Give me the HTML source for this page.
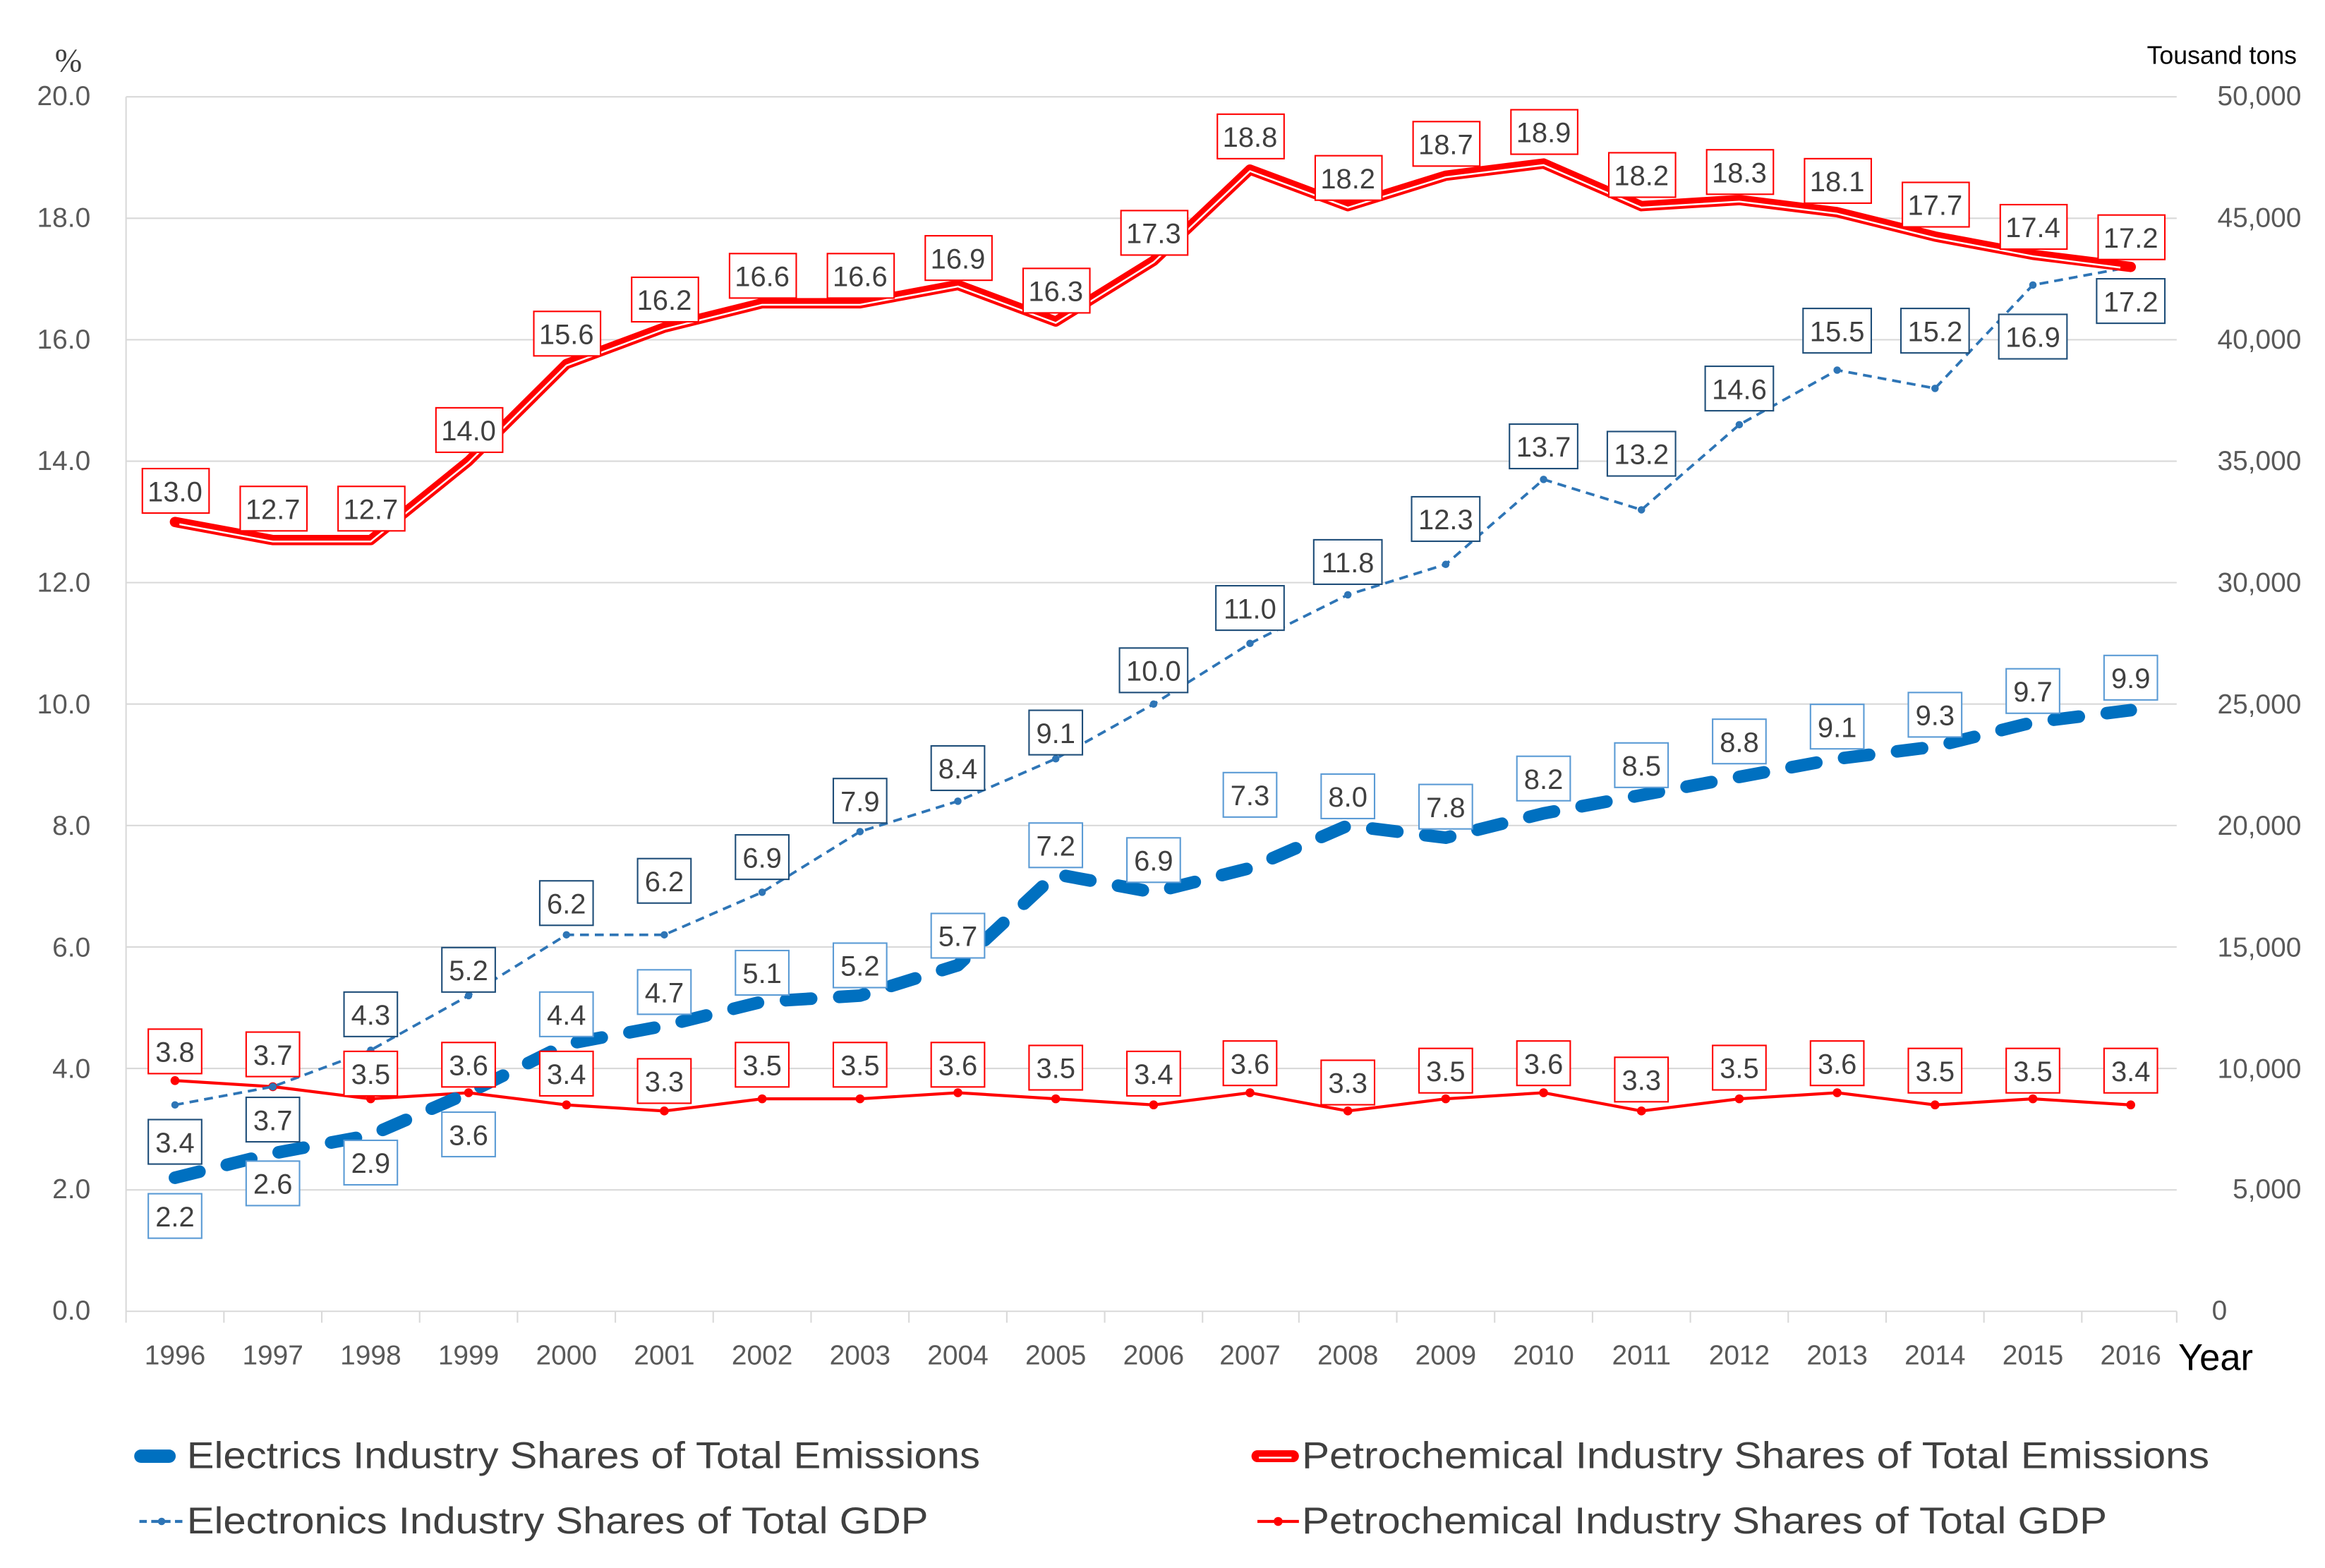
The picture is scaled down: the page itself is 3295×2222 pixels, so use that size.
<!DOCTYPE html>
<html><head><meta charset="utf-8"><style>
html,body{margin:0;padding:0;background:#fff}
svg{display:block}
text{font-family:"Liberation Sans",sans-serif}
.t{font-size:18.5px;fill:#595959}
.d{font-size:19px;fill:#404040;text-anchor:middle}
.rb{fill:#fff;stroke:#ff0000;stroke-width:1}
.db{fill:#fff;stroke:#1f4e79;stroke-width:1}
.lb{fill:#fff;stroke:#5b9bd5;stroke-width:1}
.g{stroke:#d9d9d9;stroke-width:1}
.lg{font-size:25px;fill:#404040}
</style></head><body>
<svg width="3295" height="2222" viewBox="0 0 1568 1057.4" xmlns="http://www.w3.org/2000/svg">
<rect width="1568" height="1057.4" fill="#fff"/>
<g class="g">
<line x1="85" x2="1468" y1="65.3" y2="65.3"/><line x1="85" x2="1468" y1="147.2" y2="147.2"/>
<line x1="85" x2="1468" y1="229.1" y2="229.1"/><line x1="85" x2="1468" y1="311" y2="311"/>
<line x1="85" x2="1468" y1="392.9" y2="392.9"/><line x1="85" x2="1468" y1="474.8" y2="474.8"/>
<line x1="85" x2="1468" y1="556.7" y2="556.7"/><line x1="85" x2="1468" y1="638.6" y2="638.6"/>
<line x1="85" x2="1468" y1="720.5" y2="720.5"/><line x1="85" x2="1468" y1="802.4" y2="802.4"/>
<line x1="85" x2="1468" y1="884.3" y2="884.3"/>
<line x1="85" x2="85" y1="65.3" y2="892"/><line x1="1468" x2="1468" y1="884.3" y2="892"/>
<line x1="151" x2="151" y1="884.3" y2="892"/><line x1="217" x2="217" y1="884.3" y2="892"/><line x1="283" x2="283" y1="884.3" y2="892"/><line x1="349" x2="349" y1="884.3" y2="892"/><line x1="415" x2="415" y1="884.3" y2="892"/><line x1="481" x2="481" y1="884.3" y2="892"/><line x1="547" x2="547" y1="884.3" y2="892"/><line x1="613" x2="613" y1="884.3" y2="892"/><line x1="679" x2="679" y1="884.3" y2="892"/><line x1="745" x2="745" y1="884.3" y2="892"/><line x1="811" x2="811" y1="884.3" y2="892"/><line x1="876" x2="876" y1="884.3" y2="892"/><line x1="942" x2="942" y1="884.3" y2="892"/><line x1="1008" x2="1008" y1="884.3" y2="892"/><line x1="1074" x2="1074" y1="884.3" y2="892"/><line x1="1140" x2="1140" y1="884.3" y2="892"/><line x1="1206" x2="1206" y1="884.3" y2="892"/><line x1="1272" x2="1272" y1="884.3" y2="892"/><line x1="1338" x2="1338" y1="884.3" y2="892"/><line x1="1404" x2="1404" y1="884.3" y2="892"/>
</g>
<g class="t" text-anchor="end">
<text x="61" y="71">20.0</text><text x="61" y="153">18.0</text><text x="61" y="235">16.0</text><text x="61" y="317">14.0</text><text x="61" y="399">12.0</text><text x="61" y="481">10.0</text><text x="61" y="563">8.0</text><text x="61" y="645">6.0</text><text x="61" y="727">4.0</text><text x="61" y="808">2.0</text><text x="61" y="890">0.0</text>
</g>
<text x="37" y="48" style="font-size:22px;fill:#404040;font-family:'Liberation Serif',serif">%</text>
<g class="t" text-anchor="end">
<text x="1552" y="71">50,000</text><text x="1552" y="153">45,000</text><text x="1552" y="235">40,000</text><text x="1552" y="317">35,000</text><text x="1552" y="399">30,000</text><text x="1552" y="481">25,000</text><text x="1552" y="563">20,000</text><text x="1552" y="645">15,000</text><text x="1552" y="727">10,000</text><text x="1552" y="808">5,000</text><text x="1502" y="890">0</text>
</g>
<text x="1549" y="43" text-anchor="end" style="font-size:17px;fill:#000">Tousand tons</text>
<g class="t" text-anchor="middle">
<text x="118" y="920">1996</text><text x="184" y="920">1997</text><text x="250" y="920">1998</text><text x="316" y="920">1999</text><text x="382" y="920">2000</text><text x="448" y="920">2001</text><text x="514" y="920">2002</text><text x="580" y="920">2003</text><text x="646" y="920">2004</text><text x="712" y="920">2005</text><text x="778" y="920">2006</text><text x="843" y="920">2007</text><text x="909" y="920">2008</text><text x="975" y="920">2009</text><text x="1041" y="920">2010</text><text x="1107" y="920">2011</text><text x="1173" y="920">2012</text><text x="1239" y="920">2013</text><text x="1305" y="920">2014</text><text x="1371" y="920">2015</text><text x="1437" y="920">2016</text>
</g>
<text x="1469" y="924" style="font-size:25px;fill:#000">Year</text>

<polyline fill="none" stroke="#ff0000" stroke-width="2" points="118,728.7 184,732.8 250,741 316,736.9 382,745.1 448,749.2 514,741 580,741 646,736.9 712,741 778,745.1 843,736.9 909,749.2 975,741 1041,736.9 1107,749.2 1173,741 1239,736.9 1305,745.1 1371,741 1437,745.1"/>
<g fill="#ff0000"><circle cx="118" cy="728.7" r="3"/><circle cx="184" cy="732.8" r="3"/><circle cx="250" cy="741" r="3"/><circle cx="316" cy="736.9" r="3"/><circle cx="382" cy="745.1" r="3"/><circle cx="448" cy="749.2" r="3"/><circle cx="514" cy="741" r="3"/><circle cx="580" cy="741" r="3"/><circle cx="646" cy="736.9" r="3"/><circle cx="712" cy="741" r="3"/><circle cx="778" cy="745.1" r="3"/><circle cx="843" cy="736.9" r="3"/><circle cx="909" cy="749.2" r="3"/><circle cx="975" cy="741" r="3"/><circle cx="1041" cy="736.9" r="3"/><circle cx="1107" cy="749.2" r="3"/><circle cx="1173" cy="741" r="3"/><circle cx="1239" cy="736.9" r="3"/><circle cx="1305" cy="745.1" r="3"/><circle cx="1371" cy="741" r="3"/><circle cx="1437" cy="745.1" r="3"/></g>
<polyline fill="none" stroke="#2e75b6" stroke-width="1.8" stroke-dasharray="6 4" points="118,745.1 184,732.8 250,708.2 316,671.4 382,630.4 448,630.4 514,601.7 580,560.8 646,540.3 712,511.7 778,474.8 843,433.9 909,401.1 975,380.6 1041,323.3 1107,343.8 1173,286.4 1239,249.6 1305,261.9 1371,192.2 1437,180"/>
<g fill="#2e75b6"><circle cx="118" cy="745.1" r="2.5"/><circle cx="184" cy="732.8" r="2.5"/><circle cx="250" cy="708.2" r="2.5"/><circle cx="316" cy="671.4" r="2.5"/><circle cx="382" cy="630.4" r="2.5"/><circle cx="448" cy="630.4" r="2.5"/><circle cx="514" cy="601.7" r="2.5"/><circle cx="580" cy="560.8" r="2.5"/><circle cx="646" cy="540.3" r="2.5"/><circle cx="712" cy="511.7" r="2.5"/><circle cx="778" cy="474.8" r="2.5"/><circle cx="843" cy="433.9" r="2.5"/><circle cx="909" cy="401.1" r="2.5"/><circle cx="975" cy="380.6" r="2.5"/><circle cx="1041" cy="323.3" r="2.5"/><circle cx="1107" cy="343.8" r="2.5"/><circle cx="1173" cy="286.4" r="2.5"/><circle cx="1239" cy="249.6" r="2.5"/><circle cx="1305" cy="261.9" r="2.5"/><circle cx="1371" cy="192.2" r="2.5"/><circle cx="1437" cy="180" r="3"/></g>
<polyline fill="none" stroke="#0070c0" stroke-width="8.5" stroke-linecap="round" stroke-linejoin="round" stroke-dasharray="17 19" points="118,794.2 184,777.8 250,765.5 316,736.9 382,704.1 448,691.8 514,675.5 580,671.4 646,650.9 712,589.5 778,601.7 843,585.4 909,556.7 975,564.9 1041,548.5 1107,536.2 1173,523.9 1239,511.7 1305,503.5 1371,487.1 1437,478.9"/>
<polyline fill="none" stroke="#ff0000" stroke-width="7" stroke-linejoin="round" stroke-linecap="round" points="118,352 184,364.2 250,364.2 316,311 382,245.5 448,220.9 514,204.5 580,204.5 646,192.2 712,216.8 778,175.9 843,114.4 909,139 975,118.5 1041,110.3 1107,139 1173,134.9 1239,143.1 1305,159.5 1371,171.8 1437,180"/>
<polyline fill="none" stroke="#fff" stroke-width="1.2" stroke-linejoin="round" points="121,353.5 184,365.2 250,365.2 316,312 382,246.5 448,221.9 514,205.5 580,205.5 646,193.2 712,217.8 778,176.9 843,115.4 909,140 975,119.5 1041,111.3 1107,140 1173,135.9 1239,144.1 1305,160.5 1371,172.8 1430,180.5"/>

<g>
<rect class="rb" x="96" y="316" width="45" height="30"/><text class="d" x="118" y="338">13.0</text>
<rect class="rb" x="162" y="328" width="45" height="30"/><text class="d" x="184" y="350">12.7</text>
<rect class="rb" x="228" y="328" width="45" height="30"/><text class="d" x="250" y="350">12.7</text>
<rect class="rb" x="294" y="275" width="45" height="30"/><text class="d" x="316" y="297">14.0</text>
<rect class="rb" x="360" y="210" width="45" height="30"/><text class="d" x="382" y="232">15.6</text>
<rect class="rb" x="426" y="187" width="45" height="30"/><text class="d" x="448" y="209">16.2</text>
<rect class="rb" x="492" y="171" width="45" height="30"/><text class="d" x="514" y="193">16.6</text>
<rect class="rb" x="558" y="171" width="45" height="30"/><text class="d" x="580" y="193">16.6</text>
<rect class="rb" x="624" y="159" width="45" height="30"/><text class="d" x="646" y="181">16.9</text>
<rect class="rb" x="690" y="181" width="45" height="30"/><text class="d" x="712" y="203">16.3</text>
<rect class="rb" x="756" y="142" width="45" height="30"/><text class="d" x="778" y="164">17.3</text>
<rect class="rb" x="821" y="77" width="45" height="30"/><text class="d" x="843" y="99">18.8</text>
<rect class="rb" x="887" y="105" width="45" height="30"/><text class="d" x="909" y="127">18.2</text>
<rect class="rb" x="953" y="82" width="45" height="30"/><text class="d" x="975" y="104">18.7</text>
<rect class="rb" x="1019" y="74" width="45" height="30"/><text class="d" x="1041" y="96">18.9</text>
<rect class="rb" x="1085" y="103" width="45" height="30"/><text class="d" x="1107" y="125">18.2</text>
<rect class="rb" x="1151" y="101" width="45" height="30"/><text class="d" x="1173" y="123">18.3</text>
<rect class="rb" x="1217" y="107" width="45" height="30"/><text class="d" x="1239" y="129">18.1</text>
<rect class="rb" x="1283" y="123" width="45" height="30"/><text class="d" x="1305" y="145">17.7</text>
<rect class="rb" x="1349" y="138" width="45" height="30"/><text class="d" x="1371" y="160">17.4</text>
<rect class="rb" x="1415" y="145" width="45" height="30"/><text class="d" x="1437" y="167">17.2</text>
</g>
<g>
<rect class="db" x="100" y="755" width="36" height="30"/><text class="d" x="118" y="777">3.4</text>
<rect class="db" x="166" y="740" width="36" height="30"/><text class="d" x="184" y="762">3.7</text>
<rect class="db" x="232" y="669" width="36" height="30"/><text class="d" x="250" y="691">4.3</text>
<rect class="db" x="298" y="639" width="36" height="30"/><text class="d" x="316" y="661">5.2</text>
<rect class="db" x="364" y="594" width="36" height="30"/><text class="d" x="382" y="616">6.2</text>
<rect class="db" x="430" y="579" width="36" height="30"/><text class="d" x="448" y="601">6.2</text>
<rect class="db" x="496" y="563" width="36" height="30"/><text class="d" x="514" y="585">6.9</text>
<rect class="db" x="562" y="525" width="36" height="30"/><text class="d" x="580" y="547">7.9</text>
<rect class="db" x="628" y="503" width="36" height="30"/><text class="d" x="646" y="525">8.4</text>
<rect class="db" x="694" y="479" width="36" height="30"/><text class="d" x="712" y="501">9.1</text>
<rect class="db" x="755" y="437" width="46" height="30"/><text class="d" x="778" y="459">10.0</text>
<rect class="db" x="820" y="395" width="46" height="30"/><text class="d" x="843" y="417">11.0</text>
<rect class="db" x="886" y="364" width="46" height="30"/><text class="d" x="909" y="386">11.8</text>
<rect class="db" x="952" y="335" width="46" height="30"/><text class="d" x="975" y="357">12.3</text>
<rect class="db" x="1018" y="286" width="46" height="30"/><text class="d" x="1041" y="308">13.7</text>
<rect class="db" x="1084" y="291" width="46" height="30"/><text class="d" x="1107" y="313">13.2</text>
<rect class="db" x="1150" y="247" width="46" height="30"/><text class="d" x="1173" y="269">14.6</text>
<rect class="db" x="1216" y="208" width="46" height="30"/><text class="d" x="1239" y="230">15.5</text>
<rect class="db" x="1282" y="208" width="46" height="30"/><text class="d" x="1305" y="230">15.2</text>
<rect class="db" x="1348" y="212" width="46" height="30"/><text class="d" x="1371" y="234">16.9</text>
<rect class="db" x="1414" y="188" width="46" height="30"/><text class="d" x="1437" y="210">17.2</text>
</g>
<g>
<rect class="lb" x="100" y="805" width="36" height="30"/><text class="d" x="118" y="827">2.2</text>
<rect class="lb" x="166" y="783" width="36" height="30"/><text class="d" x="184" y="805">2.6</text>
<rect class="lb" x="232" y="769" width="36" height="30"/><text class="d" x="250" y="791">2.9</text>
<rect class="lb" x="298" y="750" width="36" height="30"/><text class="d" x="316" y="772">3.6</text>
<rect class="lb" x="364" y="669" width="36" height="30"/><text class="d" x="382" y="691">4.4</text>
<rect class="lb" x="430" y="654" width="36" height="30"/><text class="d" x="448" y="676">4.7</text>
<rect class="lb" x="496" y="641" width="36" height="30"/><text class="d" x="514" y="663">5.1</text>
<rect class="lb" x="562" y="636" width="36" height="30"/><text class="d" x="580" y="658">5.2</text>
<rect class="lb" x="628" y="616" width="36" height="30"/><text class="d" x="646" y="638">5.7</text>
<rect class="lb" x="694" y="555" width="36" height="30"/><text class="d" x="712" y="577">7.2</text>
<rect class="lb" x="760" y="565" width="36" height="30"/><text class="d" x="778" y="587">6.9</text>
<rect class="lb" x="825" y="521" width="36" height="30"/><text class="d" x="843" y="543">7.3</text>
<rect class="lb" x="891" y="522" width="36" height="30"/><text class="d" x="909" y="544">8.0</text>
<rect class="lb" x="957" y="529" width="36" height="30"/><text class="d" x="975" y="551">7.8</text>
<rect class="lb" x="1023" y="510" width="36" height="30"/><text class="d" x="1041" y="532">8.2</text>
<rect class="lb" x="1089" y="501" width="36" height="30"/><text class="d" x="1107" y="523">8.5</text>
<rect class="lb" x="1155" y="485" width="36" height="30"/><text class="d" x="1173" y="507">8.8</text>
<rect class="lb" x="1221" y="475" width="36" height="30"/><text class="d" x="1239" y="497">9.1</text>
<rect class="lb" x="1287" y="467" width="36" height="30"/><text class="d" x="1305" y="489">9.3</text>
<rect class="lb" x="1353" y="451" width="36" height="30"/><text class="d" x="1371" y="473">9.7</text>
<rect class="lb" x="1419" y="442" width="36" height="30"/><text class="d" x="1437" y="464">9.9</text>
</g>
<g>
<rect class="rb" x="100" y="694" width="36" height="30"/><text class="d" x="118" y="716">3.8</text>
<rect class="rb" x="166" y="696" width="36" height="30"/><text class="d" x="184" y="718">3.7</text>
<rect class="rb" x="232" y="709" width="36" height="30"/><text class="d" x="250" y="731">3.5</text>
<rect class="rb" x="298" y="703" width="36" height="30"/><text class="d" x="316" y="725">3.6</text>
<rect class="rb" x="364" y="709" width="36" height="30"/><text class="d" x="382" y="731">3.4</text>
<rect class="rb" x="430" y="714" width="36" height="30"/><text class="d" x="448" y="736">3.3</text>
<rect class="rb" x="496" y="703" width="36" height="30"/><text class="d" x="514" y="725">3.5</text>
<rect class="rb" x="562" y="703" width="36" height="30"/><text class="d" x="580" y="725">3.5</text>
<rect class="rb" x="628" y="703" width="36" height="30"/><text class="d" x="646" y="725">3.6</text>
<rect class="rb" x="694" y="705" width="36" height="30"/><text class="d" x="712" y="727">3.5</text>
<rect class="rb" x="760" y="709" width="36" height="30"/><text class="d" x="778" y="731">3.4</text>
<rect class="rb" x="825" y="702" width="36" height="30"/><text class="d" x="843" y="724">3.6</text>
<rect class="rb" x="891" y="715" width="36" height="30"/><text class="d" x="909" y="737">3.3</text>
<rect class="rb" x="957" y="707" width="36" height="30"/><text class="d" x="975" y="729">3.5</text>
<rect class="rb" x="1023" y="702" width="36" height="30"/><text class="d" x="1041" y="724">3.6</text>
<rect class="rb" x="1089" y="713" width="36" height="30"/><text class="d" x="1107" y="735">3.3</text>
<rect class="rb" x="1155" y="705" width="36" height="30"/><text class="d" x="1173" y="727">3.5</text>
<rect class="rb" x="1221" y="702" width="36" height="30"/><text class="d" x="1239" y="724">3.6</text>
<rect class="rb" x="1287" y="707" width="36" height="30"/><text class="d" x="1305" y="729">3.5</text>
<rect class="rb" x="1353" y="707" width="36" height="30"/><text class="d" x="1371" y="729">3.5</text>
<rect class="rb" x="1419" y="707" width="36" height="30"/><text class="d" x="1437" y="729">3.4</text>
</g>

<line x1="95" y1="982" x2="114" y2="982" stroke="#0070c0" stroke-width="9" stroke-linecap="round"/>
<text class="lg" x="126" y="990" textLength="535" lengthAdjust="spacingAndGlyphs">Electrics Industry Shares of Total Emissions</text>
<line x1="94" y1="1026" x2="124" y2="1026" stroke="#2e75b6" stroke-width="2" stroke-dasharray="5 3"/>
<circle cx="109" cy="1026" r="2.5" fill="#2e75b6"/>
<text class="lg" x="126" y="1034" textLength="500" lengthAdjust="spacingAndGlyphs">Electronics Industry Shares of Total GDP</text>
<line x1="848" y1="982" x2="872" y2="982" stroke="#ff0000" stroke-width="8" stroke-linecap="round"/>
<line x1="849" y1="983" x2="871" y2="983" stroke="#fff" stroke-width="1.2"/>
<text class="lg" x="878" y="990" textLength="612" lengthAdjust="spacingAndGlyphs">Petrochemical Industry Shares of Total Emissions</text>
<line x1="848" y1="1026" x2="876" y2="1026" stroke="#ff0000" stroke-width="2"/>
<circle cx="862" cy="1026" r="3" fill="#ff0000"/>
<text class="lg" x="878" y="1034" textLength="543" lengthAdjust="spacingAndGlyphs">Petrochemical Industry Shares of Total GDP</text>
</svg>
</body></html>
